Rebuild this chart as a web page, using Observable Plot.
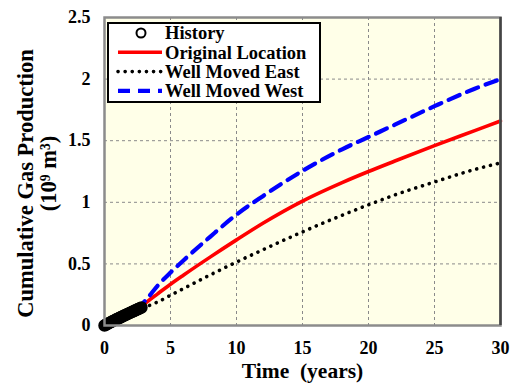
<!DOCTYPE html>
<html>
<head>
<meta charset="utf-8">
<script src="https://cdn.jsdelivr.net/npm/d3@7"></script>
<script src="https://cdn.jsdelivr.net/npm/@observablehq/plot@0.6"></script>
<style>
  html, body { margin: 0; padding: 0; background: #fff; }
  #chart { width: 511px; height: 387px; }
</style>
</head>
<body>
<div id="chart"></div>
<script>
// Tick values
const xTicks = [0, 5, 10, 15, 20, 25, 30];
const yTicks = [0, 0.5, 1, 1.5, 2, 2.5];

// Production history (years, 10^9 m^3)
const historyT = [0, 0.1, 0.2, 0.3, 0.4, 0.5, 0.6, 0.7, 0.8, 0.9, 1.0, 1.1, 1.2, 1.3, 1.4,
  1.5, 1.6, 1.7, 1.8, 1.9, 2.0, 2.1, 2.2, 2.3, 2.4, 2.5, 2.6, 2.7, 2.8];
const historyV = [0, 0.006, 0.012, 0.017, 0.023, 0.028, 0.034, 0.039, 0.044, 0.050, 0.055,
  0.060, 0.065, 0.071, 0.076, 0.081, 0.086, 0.091, 0.096, 0.101, 0.106, 0.111, 0.116,
  0.121, 0.126, 0.131, 0.136, 0.141, 0.146];

// Forecast times (years)
const forecastT = [2.4, 2.8, 3.2, 4, 5, 6, 8, 10, 12, 15, 18, 20, 22, 25, 28, 30];
// Forecast cumulative production for each well location
const originalV = [0.127, 0.155, 0.190, 0.255, 0.335, 0.410, 0.555, 0.695, 0.830, 1.010, 1.160, 1.250, 1.335, 1.460, 1.580, 1.660];
const eastV     = [0.125, 0.140, 0.155, 0.190, 0.245, 0.300, 0.410, 0.515, 0.615, 0.760, 0.895, 0.980, 1.060, 1.165, 1.265, 1.320];
const westV     = [0.130, 0.170, 0.215, 0.320, 0.430, 0.530, 0.720, 0.900, 1.050, 1.255, 1.430, 1.530, 1.630, 1.780, 1.920, 2.000];

const history = historyT.map((t, i) => ({t, v: historyV[i]}));
const original = forecastT.map((t, i) => ({t, v: originalV[i]}));
const east = forecastT.map((t, i) => ({t, v: eastV[i]}));
const west = forecastT.map((t, i) => ({t, v: westV[i]}));

const font = "'Liberation Serif', 'Times New Roman', serif";

const chart = Plot.plot({
  width: 511,
  height: 387,
  marginLeft: 104,
  marginRight: 11,
  marginTop: 17,
  marginBottom: 62,
  style: {fontFamily: font, fontWeight: "bold", fontSize: "18px", color: "#000", background: "#fff"},
  x: {domain: [0, 30]},
  y: {domain: [0, 2.5]},
  marks: [
    Plot.frame({fill: "#ffffe8"}),
    Plot.gridX(xTicks.slice(1, -1), {stroke: "#8a8a8a", strokeOpacity: 1, strokeDasharray: "3 3", strokeWidth: 1}),
    Plot.gridY(yTicks.slice(1, -1), {stroke: "#8a8a8a", strokeOpacity: 1, strokeDasharray: "3 3", strokeWidth: 1}),
    Plot.line(east, {x: "t", y: "v", curve: "monotone-x", stroke: "#000", strokeWidth: 3.6, strokeDasharray: "0.1 7", strokeLinecap: "round"}),
    Plot.line(original, {x: "t", y: "v", curve: "monotone-x", stroke: "#ff0000", strokeWidth: 3.6}),
    Plot.line(west, {x: "t", y: "v", curve: "monotone-x", stroke: "#0000ff", strokeWidth: 4.2, strokeDasharray: "12 8"}),
    Plot.dot(history, {x: "t", y: "v", r: 5, stroke: "#000", strokeWidth: 2.5, fill: "none"}),
    Plot.frame({stroke: "#8c8c8c", strokeWidth: 2.5}),
    Plot.ruleX([30], {stroke: "#444", strokeWidth: 2.5}),
    Plot.axisX(xTicks, {tickSize: 0, tickPadding: 16, label: null, fontSize: 18, fontWeight: "bold"}),
    Plot.axisY(yTicks, {tickSize: 0, tickPadding: 14, label: null, fontSize: 18, fontWeight: "bold", tickFormat: d => String(d)}),
    Plot.text(["Time\u00a0\u00a0(years)"], {frameAnchor: "bottom", lineAnchor: "middle", textAnchor: "middle", dy: 46, fontSize: 21.5, fontWeight: "bold"}),
    Plot.text(["Cumulative Gas Production"], {frameAnchor: "left", textAnchor: "middle", lineAnchor: "middle", dx: -79, dy: 12, rotate: -90, fontSize: 22.5, fontWeight: "bold"}),
    Plot.text(["(10\u2079\u00a0m\u00b3)"], {frameAnchor: "left", textAnchor: "middle", lineAnchor: "middle", dx: -56, dy: 2, rotate: -90, fontSize: 22.5, fontWeight: "bold"})
  ]
});

document.getElementById("chart").appendChild(chart);

// Legend box in the upper-left corner of the plot area
const svg = d3.select(chart);
const legend = svg.append("g")
  .attr("font-family", font).attr("font-weight", "bold").attr("font-size", 18.5)
  .attr("text-anchor", "start");
legend.append("rect")
  .attr("x", 108).attr("y", 23).attr("width", 212).attr("height", 79)
  .attr("fill", "#fff").attr("stroke", "#000").attr("stroke-width", 2);

const entries = [
  {label: "History", kind: "dot"},
  {label: "Original Location", kind: "line", stroke: "#ff0000", width: 3.6, dash: null},
  {label: "Well Moved East", kind: "line", stroke: "#000", width: 3.6, dash: "0.1 7", cap: "round"},
  {label: "Well Moved West", kind: "line", stroke: "#0000ff", width: 4.2, dash: "12 8"}
];
entries.forEach((e, i) => {
  const cy = 33 + i * 19.3;
  if (e.kind === "dot") {
    legend.append("circle").attr("cx", 141).attr("cy", cy).attr("r", 4.5)
      .attr("fill", "none").attr("stroke", "#000").attr("stroke-width", 2);
  } else {
    const ln = legend.append("line").attr("x1", 118).attr("x2", 162).attr("y1", cy).attr("y2", cy)
      .attr("stroke", e.stroke).attr("stroke-width", e.width);
    if (e.dash) ln.attr("stroke-dasharray", e.dash);
    if (e.cap) ln.attr("stroke-linecap", e.cap);
  }
  legend.append("text").attr("x", 165).attr("y", cy).attr("dy", "0.35em")
    .attr("text-anchor", "start").attr("fill", "#000").text(e.label);
});
</script>
</body>
</html>
